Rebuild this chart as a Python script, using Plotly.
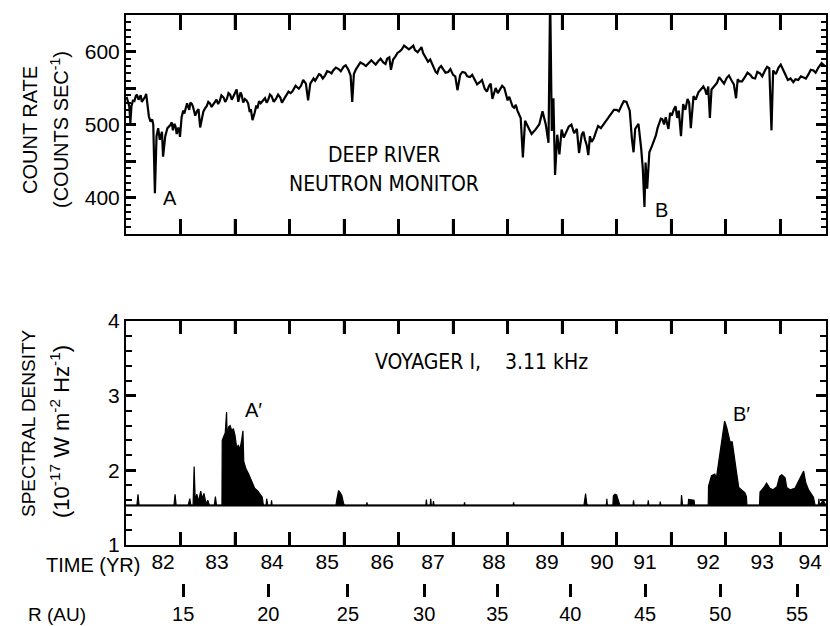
import plotly.graph_objects as go

W, H = 830, 626

# ---------------- data ----------------
# Deep River neutron monitor: main trace points
NM_YEAR = [1982.01, 1982.06, 1982.08, 1982.10, 1982.13, 1982.18, 1982.23, 1982.27, 1982.32, 1982.35,
           1982.39, 1982.42, 1982.45, 1982.48, 1982.50, 1982.53, 1982.56, 1982.59, 1982.62, 1982.66,
           1982.68, 1982.72, 1982.76, 1982.81, 1982.86, 1982.89, 1982.93, 1982.96, 1982.99, 1983.02,
           1983.05, 1983.10, 1983.14, 1983.18, 1983.23, 1983.30, 1983.36, 1983.42, 1983.48, 1983.54,
           1983.60, 1983.66, 1983.72, 1983.79, 1983.85, 1983.91, 1983.97, 1984.03, 1984.08, 1984.12,
           1984.18, 1984.24, 1984.29, 1984.32, 1984.36, 1984.41, 1984.47, 1984.55, 1984.61, 1984.67,
           1984.75, 1984.83, 1984.89, 1984.95, 1985.02, 1985.08, 1985.14, 1985.21, 1985.25, 1985.30,
           1985.34, 1985.38, 1985.44, 1985.51, 1985.57, 1985.65, 1985.73, 1985.80, 1985.90, 1985.99,
           1986.08, 1986.12, 1986.15, 1986.18, 1986.26, 1986.35, 1986.45, 1986.54, 1986.63, 1986.72,
           1986.79, 1986.86, 1986.90, 1986.98, 1987.06, 1987.15, 1987.24, 1987.30, 1987.39, 1987.45,
           1987.54, 1987.62, 1987.68, 1987.74, 1987.82, 1987.91, 1988.00, 1988.08, 1988.13, 1988.22,
           1988.31, 1988.40, 1988.49, 1988.58, 1988.66, 1988.72, 1988.78, 1988.86, 1988.94, 1989.00,
           1989.06, 1989.12, 1989.18, 1989.24, 1989.28, 1989.32, 1989.38, 1989.44, 1989.51, 1989.58,
           1989.64, 1989.70, 1989.75, 1989.78, 1989.81, 1989.84, 1989.87, 1989.91, 1989.95, 1989.99,
           1990.08, 1990.17, 1990.27, 1990.31, 1990.36, 1990.42, 1990.48, 1990.54, 1990.62, 1990.71,
           1990.82, 1990.91, 1991.00, 1991.09, 1991.18, 1991.24, 1991.28, 1991.31, 1991.34, 1991.40,
           1991.45, 1991.48, 1991.51, 1991.53, 1991.56, 1991.60, 1991.65, 1991.72, 1991.78, 1991.84,
           1991.90, 1991.95, 1991.98, 1992.05, 1992.11, 1992.14, 1992.18, 1992.22, 1992.30, 1992.36,
           1992.41, 1992.50, 1992.59, 1992.65, 1992.71, 1992.74, 1992.84, 1992.93, 1993.02, 1993.11,
           1993.19, 1993.25, 1993.36, 1993.45, 1993.54, 1993.63, 1993.72, 1993.80, 1993.84, 1993.87,
           1993.97, 1994.06, 1994.14, 1994.24, 1994.33, 1994.43, 1994.52, 1994.61, 1994.70, 1994.82]
NM_RATE = [538, 525, 502, 525, 534, 539, 534, 540, 534, 538,
           525, 511, 504, 507, 500, 406, 484, 495, 479, 490,
           456, 484, 495, 499, 492, 501, 487, 496, 483, 510,
           519, 526, 524, 530, 524, 518, 496, 518, 525, 529,
           527, 534, 532, 537, 535, 541, 539, 548, 537, 541,
           535, 529, 521, 506, 516, 522, 529, 536, 534, 539,
           535, 537, 534, 540, 543, 549, 551, 553, 561, 556,
           533, 556, 563, 565, 568, 567, 572, 574, 576, 579,
           575, 567, 531, 569, 581, 583, 584, 585, 587, 585,
           590, 575, 589, 598, 603, 605, 606, 602, 603, 598,
           586, 582, 572, 577, 575, 572, 568, 547, 568, 571,
           565, 560, 558, 549, 553, 535, 550, 549, 550, 533,
           530, 523, 519, 509, 455, 505, 496, 487, 493, 500,
           518, 500, 475, 680, 491, 536, 431, 486, 459, 493,
           491, 500, 494, 461, 486, 479, 458, 476, 490, 495,
           506, 515, 520, 526, 531, 519, 480, 462, 494, 501,
           467, 439, 387, 448, 412, 462, 471, 485, 501, 507,
           510, 494, 516, 521, 509, 519, 484, 528, 535, 495,
           539, 544, 552, 541, 509, 548, 557, 560, 564, 560,
           536, 559, 566, 568, 563, 570, 574, 577, 492, 574,
           578, 574, 561, 558, 561, 564, 569, 574, 578, 580]
# small day-to-day wiggles of the same trace
NM_WIGGLE_YEAR = [1982.04, 1982.15, 1982.20, 1982.29, 1982.37, 1982.84, 1982.91, 1982.98,
                  1983.07, 1983.12, 1983.16, 1983.21, 1983.27, 1983.33, 1983.39, 1983.45, 1983.51,
                  1983.57, 1983.63, 1983.69, 1983.75, 1983.82, 1983.88, 1983.94, 1984.00, 1984.06,
                  1984.10, 1984.15, 1984.21, 1984.27, 1984.39, 1984.44, 1984.51, 1984.58, 1984.64,
                  1984.71, 1984.79, 1984.86, 1984.92, 1984.98, 1985.05, 1985.11, 1985.17, 1985.23,
                  1985.41, 1985.47, 1985.54, 1985.61, 1985.69, 1985.77, 1985.85, 1985.94, 1986.03,
                  1986.22, 1986.30, 1986.40, 1986.50, 1986.58, 1986.67, 1986.76, 1986.83, 1986.94,
                  1987.02, 1987.10, 1987.19, 1987.27, 1987.35, 1987.42, 1987.50, 1987.58, 1987.65,
                  1987.71, 1987.78, 1987.86, 1987.95, 1988.04, 1988.17, 1988.26, 1988.35, 1988.44,
                  1988.53, 1988.62, 1988.69, 1988.82, 1988.90, 1988.97, 1989.03, 1989.09, 1989.15,
                  1989.21, 1990.03, 1990.12, 1990.22, 1990.39, 1990.45, 1990.51, 1990.58, 1990.66,
                  1990.76, 1990.86, 1990.95, 1991.04, 1991.13, 1991.21, 1991.75, 1991.81, 1991.87,
                  1992.01, 1992.08, 1992.26, 1992.33, 1992.45, 1992.54, 1992.62, 1992.68, 1992.79,
                  1992.88, 1992.97, 1993.06, 1993.15, 1993.22, 1993.30, 1993.40, 1993.49, 1993.58,
                  1993.67, 1993.76, 1993.92, 1994.01, 1994.10, 1994.19, 1994.28, 1994.38, 1994.47,
                  1994.56, 1994.65, 1994.76]
NM_WIGGLE_RATE = [530, 531, 541, 531, 542, 503, 497, 490,
                  515, 529, 520, 528, 512, 521, 508, 522, 531,
                  524, 531, 528, 540, 531, 543, 534, 544, 531,
                  544, 530, 533, 517, 526, 532, 533, 530, 541,
                  531, 541, 530, 538, 545, 545, 553, 549, 557,
                  559, 560, 569, 563, 573, 570, 578, 573, 581,
                  576, 585, 580, 588, 582, 590, 583, 592, 593,
                  600, 608, 603, 608, 599, 606, 592, 589, 578,
                  570, 580, 571, 576, 566, 572, 566, 568, 555,
                  561, 545, 556, 543, 553, 540, 538, 525, 527,
                  515, 482, 497, 488, 490, 472, 484, 481, 498,
                  500, 510, 520, 518, 532, 524, 495, 508, 500,
                  512, 525, 520, 530, 534, 548, 548, 552, 552,
                  565, 556, 567, 555, 562, 559, 571, 564, 572,
                  566, 579, 569, 582, 568, 563, 562, 566, 563,
                  575, 571, 584]

# Voyager 1, 3.11 kHz spectral density (units of 1e-17 W m^-2 Hz^-1)
SD_BASELINE = 1.53
SD_YEAR = [1982.00, 1982.20, 1982.22, 1982.24, 1982.88, 1982.90, 1982.92, 1983.14, 1983.17, 1983.19,
           1983.23, 1983.25, 1983.27, 1983.30, 1983.33, 1983.37, 1983.40, 1983.43, 1983.47, 1983.50,
           1983.53, 1983.62, 1983.64, 1983.66,
           1983.76, 1983.765, 1983.79, 1983.82, 1983.845, 1983.855, 1983.88, 1983.91, 1983.94, 1983.97,
           1984.00, 1984.03, 1984.06, 1984.09, 1984.12, 1984.145, 1984.16, 1984.20, 1984.25, 1984.30,
           1984.36, 1984.42, 1984.47, 1984.50, 1984.52, 1984.57, 1984.58, 1984.60, 1984.66, 1984.67,
           1984.68, 1985.85, 1985.87, 1985.90, 1985.93, 1985.96, 1985.99, 1986.01, 1986.41, 1986.42,
           1986.43, 1987.50, 1987.51, 1987.52, 1987.58, 1987.59, 1987.60, 1987.63, 1987.64, 1987.65,
           1988.20, 1988.21, 1988.22, 1989.10, 1989.11, 1989.12,
           1990.40, 1990.41, 1990.43, 1990.45, 1990.47, 1990.81, 1990.82, 1990.83, 1990.93, 1990.94,
           1990.97, 1991.00, 1991.04, 1991.06, 1991.30, 1991.31, 1991.32, 1991.57, 1991.58, 1991.59,
           1991.79, 1991.80, 1991.81, 1992.18, 1992.19, 1992.21, 1992.31, 1992.32, 1992.42, 1992.43,
           1992.68, 1992.685, 1992.74, 1992.80, 1992.83, 1992.88, 1992.93, 1992.98, 1993.02, 1993.08,
           1993.12, 1993.16, 1993.20, 1993.24, 1993.29, 1993.35, 1993.38, 1993.39,
           1993.62, 1993.63, 1993.69, 1993.75, 1993.81, 1993.87, 1993.94, 1993.99, 1994.03, 1994.09,
           1994.12, 1994.18, 1994.27, 1994.33, 1994.38, 1994.43, 1994.47, 1994.52, 1994.61, 1994.64,
           1994.70, 1994.71, 1994.72, 1994.79, 1994.84]
SD_VALUE = [1.53, 1.53, 1.68, 1.53, 1.53, 1.68, 1.53, 1.53, 1.62, 1.53,
            1.53, 2.05, 1.60, 1.68, 1.58, 1.72, 1.62, 1.69, 1.55, 1.60,
            1.53, 1.53, 1.65, 1.53,
            1.53, 2.40, 2.45, 2.50, 2.78, 2.45, 2.58, 2.60, 2.53, 2.56,
            2.47, 2.30, 2.34, 2.28, 2.40, 2.53, 2.12, 2.02, 1.95, 1.86,
            1.76, 1.72, 1.66, 1.64, 1.53, 1.53, 1.62, 1.53, 1.53, 1.60,
            1.53, 1.53, 1.62, 1.73, 1.70, 1.66, 1.56, 1.53, 1.53, 1.57,
            1.53, 1.53, 1.61, 1.53, 1.53, 1.62, 1.53, 1.53, 1.59, 1.53,
            1.53, 1.57, 1.53, 1.53, 1.57, 1.53,
            1.53, 1.60, 1.69, 1.56, 1.53, 1.53, 1.62, 1.53, 1.53, 1.66,
            1.68, 1.67, 1.58, 1.53, 1.53, 1.60, 1.53, 1.53, 1.60, 1.53,
            1.53, 1.58, 1.53, 1.53, 1.67, 1.53, 1.53, 1.61, 1.60, 1.53,
            1.53, 1.79, 1.93, 1.95, 1.90, 2.16, 2.43, 2.66, 2.57, 2.38,
            2.38, 2.20, 1.97, 1.77, 1.74, 1.70, 1.65, 1.53,
            1.53, 1.71, 1.76, 1.83, 1.76, 1.74, 1.78, 1.92, 1.94, 1.90,
            1.77, 1.74, 1.76, 1.85, 1.92, 1.99, 1.83, 1.74, 1.64, 1.53,
            1.53, 1.62, 1.53, 1.60, 1.53]

YEAR_TICKS = [1983, 1984, 1985, 1986, 1987, 1988, 1989, 1990, 1991, 1992, 1993, 1994]
YEAR_LABELS = ["82", "83", "84", "85", "86", "87", "88", "89", "90", "91", "92", "93", "94"]
YEAR_LABEL_POS = [1982.68, 1983.67, 1984.68, 1985.69, 1986.70, 1987.63, 1988.75, 1989.72,
                  1990.73, 1991.52, 1992.68, 1993.67, 1994.55]
R_LABELS = ["15", "20", "25", "30", "35", "40", "45", "50", "55"]
R_POS = [1983.05, 1984.61, 1986.07, 1987.47, 1988.81, 1990.15, 1991.52, 1992.90, 1994.31]
COUNT_TICKVALS = [350, 400, 450, 500, 550, 600, 650]
COUNT_TICKTEXT = ["", "400", "", "500", "", "600", ""]
SD_TICKVALS = [1, 2, 3, 4]
X_RANGE = [1982.0, 1994.84]
COUNT_RANGE = [350, 650]
SD_RANGE = [1, 4]

# merged neutron-monitor trace (sorted by time)
nm_pairs = sorted(zip(NM_YEAR + NM_WIGGLE_YEAR, NM_RATE + NM_WIGGLE_RATE))
nm_x = [p[0] for p in nm_pairs]
nm_y = [p[1] for p in nm_pairs]

# ---------------- layout helpers ----------------
FONT = "Liberation Sans, Arial, sans-serif"
NARROW = "Liberation Sans Narrow, Arial Narrow, DejaVu Sans Condensed, Liberation Sans, sans-serif"


def fx(p):
    return p / W


def fy(p):
    return 1 - p / H


XDOM = [fx(126), fx(826)]
TOP_DOM = [fy(234), fy(15)]
BOT_DOM = [fy(545), fy(321)]

fig = go.Figure()

fig.add_trace(go.Scatter(x=nm_x, y=nm_y, mode="lines",
                         line=dict(color="black", width=2.2),
                         xaxis="x", yaxis="y", showlegend=False, hoverinfo="skip"))

fig.add_trace(go.Scatter(x=X_RANGE, y=[SD_BASELINE, SD_BASELINE], mode="lines",
                         line=dict(color="black", width=2),
                         xaxis="x2", yaxis="y2", showlegend=False, hoverinfo="skip"))
fig.add_trace(go.Scatter(x=SD_YEAR, y=SD_VALUE, mode="lines", fill="tonexty",
                         fillcolor="black", line=dict(color="black", width=1.2),
                         xaxis="x2", yaxis="y2", showlegend=False, hoverinfo="skip"))

# invisible traces that carry the label axes
fig.add_trace(go.Scatter(x=[X_RANGE[0]], y=[SD_BASELINE], mode="markers", marker=dict(opacity=0),
                         xaxis="x3", yaxis="y2", showlegend=False, hoverinfo="skip"))
fig.add_trace(go.Scatter(x=[X_RANGE[0]], y=[SD_BASELINE], mode="markers", marker=dict(opacity=0),
                         xaxis="x4", yaxis="y2", showlegend=False, hoverinfo="skip"))

axis_common = dict(showgrid=False, zeroline=False, showline=True, linecolor="black",
                   linewidth=2, tickwidth=2.5, mirror="ticks")

tick_font = dict(family=FONT, size=21, color="black")

fig.update_layout(
    template="none",
    width=W, height=H,
    margin=dict(l=0, r=0, t=0, b=0, autoexpand=False),
    paper_bgcolor="white", plot_bgcolor="white",
    font=dict(family=FONT, color="black"),
    xaxis=dict(domain=XDOM, range=X_RANGE, anchor="y", type="linear",
               tickmode="array", tickvals=YEAR_TICKS, tickcolor="black",
               ticks="inside", ticklen=15, showticklabels=False, automargin=False,
               **axis_common),
    yaxis=dict(domain=TOP_DOM, range=COUNT_RANGE, anchor="x", tickmode="array",
               tickvals=COUNT_TICKVALS, ticktext=COUNT_TICKTEXT, ticks="inside", ticklen=10,
               tickfont=tick_font, automargin=False, tickcolor="black",
               minor=dict(tick0=350, dtick=10, ticks="inside", ticklen=5, tickwidth=1.5,
                          tickcolor="black"),
               **axis_common),
    xaxis2=dict(domain=XDOM, range=X_RANGE, anchor="y2", type="linear",
                tickmode="array", tickvals=YEAR_TICKS, tickcolor="black",
                ticks="inside", ticklen=13, showticklabels=False, automargin=False,
                **axis_common),
    yaxis2=dict(domain=BOT_DOM, range=SD_RANGE, anchor="x2", tickmode="array",
                tickvals=SD_TICKVALS, ticks="inside", ticklen=10, tickfont=tick_font,
                automargin=False, tickcolor="black",
                minor=dict(tick0=1, dtick=0.2, ticks="inside", ticklen=6, tickwidth=1.5,
                           tickcolor="black"),
                **axis_common),
    xaxis3=dict(overlaying="x2", anchor="y2", side="bottom", range=X_RANGE, type="linear",
                tickmode="array", tickvals=YEAR_LABEL_POS, ticktext=YEAR_LABELS, ticks="",
                showline=False, showgrid=False, zeroline=False, automargin=False,
                tickfont=tick_font, ticklabelstandoff=2),
    xaxis4=dict(overlaying="x2", anchor="free", position=fy(583), side="bottom", range=X_RANGE,
                type="linear", tickmode="array", tickvals=R_POS, ticktext=R_LABELS,
                ticks="outside", ticklen=13, tickwidth=2.5, automargin=False,
                tickcolor="black", showline=False, showgrid=False, zeroline=False,
                tickfont=dict(family=FONT, size=20, color="black"), ticklabelstandoff=0),
)

# year tick marks repeated as shapes on the panel edges, at the YEAR_TICKS data positions
for xr, yr, ln in (("x", "y domain", 15 / 219), ("x2", "y2 domain", 13 / 224)):
    for yv in YEAR_TICKS:
        fig.add_shape(type="line", xref=xr, yref=yr, x0=yv, x1=yv, y0=0, y1=ln,
                      line=dict(color="black", width=2.5), layer="above")
        fig.add_shape(type="line", xref=xr, yref=yr, x0=yv, x1=yv, y0=1 - ln, y1=1,
                      line=dict(color="black", width=2.5), layer="above")


def label(text, x, y, size=19, angle=0, family=FONT):
    fig.add_annotation(text=text, x=fx(x), y=fy(y), xref="paper", yref="paper",
                       showarrow=False, textangle=angle, xanchor="center", yanchor="middle",
                       font=dict(family=family, size=size, color="black"))


label("COUNT RATE", 30, 130, 20, -90)
label("(COUNTS SEC<sup>-1</sup>)", 59, 130, 20, -90)
label("SPECTRAL DENSITY", 29, 423, 19, -90)
label("(10<sup>-17</sup> W m<sup>-2</sup> Hz<sup>-1</sup>)", 60, 432, 22, -90)
label("DEEP RIVER", 384, 155, 21, family=NARROW)
label("NEUTRON MONITOR", 384, 184, 21, family=NARROW)
label("A", 170, 198, 20)
label("B", 661, 210, 20)
label("VOYAGER I,\u00a0\u00a0\u00a0\u00a03.11 kHz", 481, 362, 21, family=NARROW)
label("A\u2032", 253, 410, 20)
label("B\u2032", 741, 414, 20)
label("TIME (YR)", 93, 565, 20)
label("R (AU)", 57, 614, 19)

fig.write_html("out.html")
